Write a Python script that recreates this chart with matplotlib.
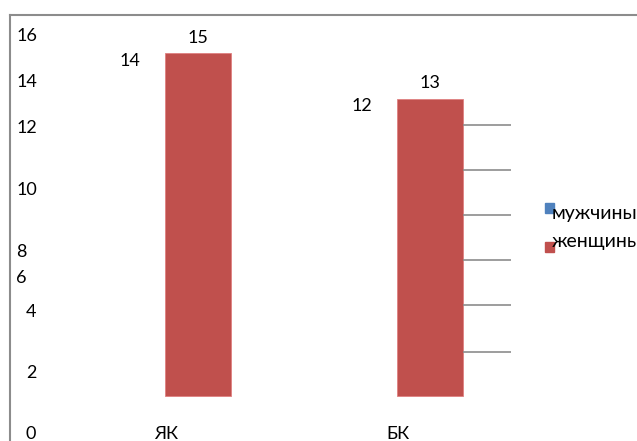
import matplotlib.pyplot as plt
import numpy as np

plt.rcParams['font.family'] = ['Lato', 'DejaVu Sans']

# data
categories = ['ЯК', 'БК']
men = [14, 12]
women = [15, 13]
series_names = ['мужчины', 'женщины']
ytick_labels = ['16', '14', '12', '10', '8', '6', '4', '2', '0']
grid_levels = [1.92, 3.98, 5.95, 7.91, 9.88, 11.85]

W, H = 637, 441
fig = plt.figure(figsize=(W / 100, H / 100), dpi=100)

# frame: only left and top edges show
frame = fig.add_axes([10 / W, 0, 1, (H - 15) / H])
frame.set_xticks([])
frame.set_yticks([])
for s in ['right', 'bottom']:
    frame.spines[s].set_visible(False)
for s in ['left', 'top']:
    frame.spines[s].set_color('#8c8c8c')
    frame.spines[s].set_linewidth(1.5)
frame.patch.set_alpha(0)

ax = fig.add_axes([0, 0, 1, 1])
ax.patch.set_alpha(0)
ax.axis('off')
# one category = 232 px, one unit = 22.87 px, baseline at y=396 px
ax.set_xlim(-164 / 232, (W - 164) / 232)
ax.set_ylim((396 - H) / 22.87, 396 / 22.87)

x = np.arange(len(categories))
w = 0.284
off = 0.147
b_men = ax.bar(x - off, men, w, color='#4F81BD', alpha=0)
b_women = ax.bar(x + off, women, w, color='#C0504D', edgecolor='#e08080', linewidth=0.6)

fs = 13
for bars, vals in [(b_men, men), (b_women, women)]:
    for r, v in zip(bars, vals):
        ax.annotate(str(v), (r.get_x() + r.get_width() / 2, v), xytext=(0, 11),
                    textcoords='offset points', ha='center', va='center', fontsize=fs)

# short grid lines to the right of the second group
ax.hlines(grid_levels, 1.289, 1.496, color='#8c8c8c', linewidth=1.2)

# category labels
for xi, c in zip(x, categories):
    ax.text(xi + 0.01, (396 - 434) / 22.87, c, ha='center', va='center', fontsize=fs)

# scattered y labels (pixel positions from the reference)
ylab_px = [(17, 36), (17, 82), (17, 128), (17, 190), (16, 252), (16, 278),
           (26, 312), (26, 373), (26, 434)]
for lab, (px, py) in zip(ytick_labels, ylab_px):
    fig.text(px / W, 1 - py / H, lab, ha='left', va='center', fontsize=fs)

# legend
fig.patches.append(plt.Rectangle((545 / W, 1 - 213 / H), 9 / W, 10 / H,
                                 transform=fig.transFigure, color='#4F81BD'))
fig.patches.append(plt.Rectangle((545 / W, 1 - 252 / H), 9 / W, 10 / H,
                                 transform=fig.transFigure, color='#C0504D'))
fig.text(552 / W, 1 - 214 / H, series_names[0], ha='left', va='center', fontsize=14)
fig.text(552 / W, 1 - 241 / H, series_names[1], ha='left', va='center', fontsize=14)

fig.savefig('out.png', dpi=100)
